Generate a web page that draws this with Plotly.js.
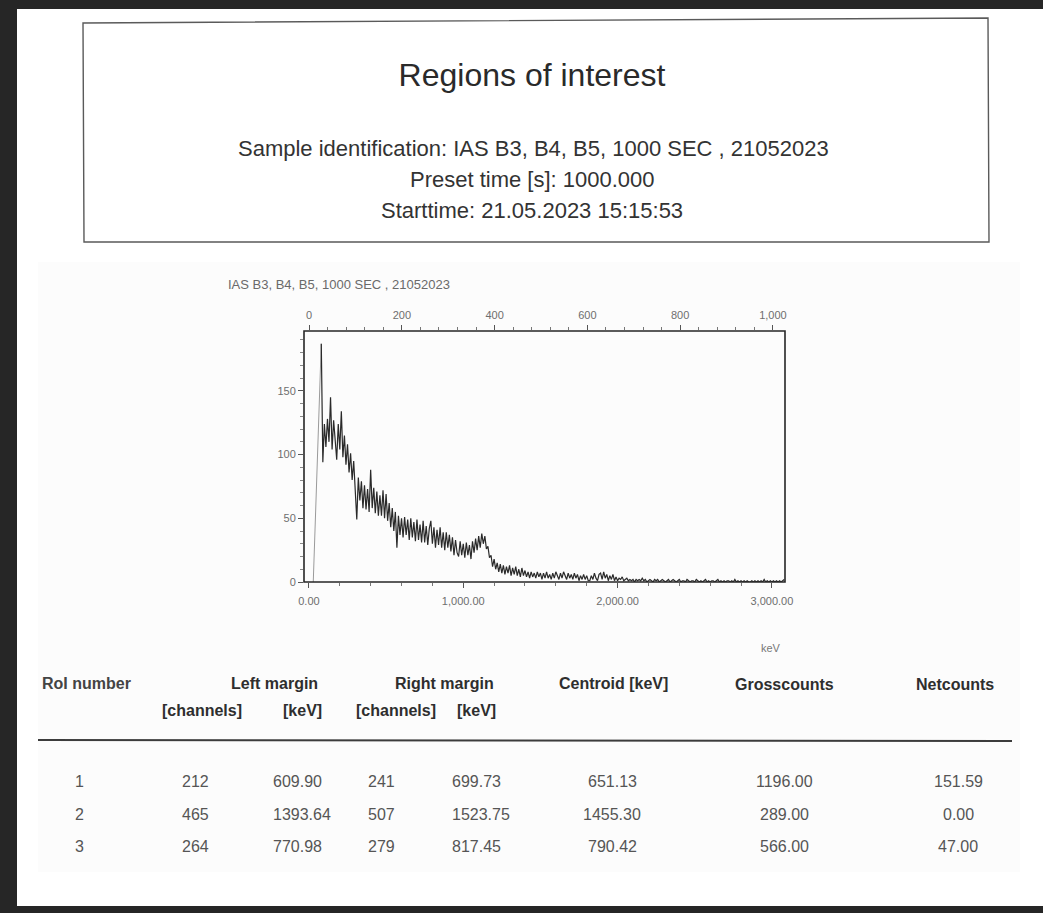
<!DOCTYPE html>
<html>
<head>
<meta charset="utf-8">
<script src="https://cdn.plot.ly/plotly-3.0.1.min.js"></script>
<style>
  html, body { margin: 0; padding: 0; background: #ffffff; }
  #report { width: 1043px; height: 913px; }
</style>
</head>
<body>
<div id="report"></div>
<script>
// ---- Report header ----
const reportTitle = "Regions of interest";
const sampleId = "IAS B3, B4, B5, 1000 SEC , 21052023";
const presetTime = "1000.000";
const startTime = "21.05.2023 15:15:53";

// ---- Spectrum (counts per 10 keV step, starting at 80 keV) ----
const spectrumStartKeV = 80;
const spectrumStepKeV = 10;
const riseKeV = [28, 80];
const riseCounts = [0, 187];
const counts = [
  187, 94, 124, 106, 128, 110, 145, 104, 127, 108,
  96, 124, 104, 134, 98, 115, 92, 108, 86, 101,
  80, 95, 74, 49, 82, 64, 79, 58, 76, 57,
  73, 55, 88, 58, 74, 54, 71, 52, 68, 52,
  72, 50, 69, 48, 62, 43, 58, 40, 55, 27,
  52, 37, 50, 35, 51, 37, 49, 33, 50, 35,
  47, 32, 49, 33, 45, 31, 48, 31, 44, 29,
  42, 48, 30, 43, 27, 41, 29, 43, 27, 39,
  25, 39, 27, 37, 24, 35, 21, 33, 23, 20,
  32, 21, 30, 19, 31, 21, 29, 18, 32, 23,
  34, 25, 36, 27, 38, 30, 36, 26, 28, 19,
  21, 12, 18, 10, 15, 8, 14, 7, 13, 6,
  12, 7, 13, 5, 11, 6, 12, 5, 10, 4,
  11, 5, 9, 4, 8, 3, 8, 4, 7, 3,
  8, 4, 7, 2, 7, 3, 8, 3, 6, 2,
  7, 3, 8, 4, 2, 7, 3, 8, 4, 2,
  7, 3, 6, 2, 7, 3, 6, 1, 5, 2,
  6, 2, 5, 1, 1, 5, 2, 7, 3, 1,
  6, 7, 2, 8, 3, 6, 1, 5, 2, 6,
  1, 4, 1, 3, 2, 4, 1, 2, 3, 1,
  2, 1, 2, 0, 2, 1, 2, 1, 3, 1,
  2, 0, 1, 2, 1, 0, 2, 1, 2, 0,
  1, 2, 1, 0, 1, 2, 0, 1, 2, 1,
  0, 1, 2, 0, 1, 1, 0, 2, 1, 0,
  1, 1, 0, 2, 1, 0, 1, 0, 1, 2,
  0, 1, 0, 1, 1, 0, 1, 2, 0, 1,
  0, 1, 0, 1, 1, 0, 1, 0, 2, 0,
  1, 0, 1, 0, 1, 0, 1, 0, 0, 1,
  0, 1, 0, 1, 0, 1, 0, 2, 0, 1,
  0, 1, 0, 1, 0, 1, 0, 1, 0, 1,
  2
];
const spectrumKeV = counts.map((_, i) => spectrumStartKeV + i * spectrumStepKeV);

// ---- Axis ticks ----
const energyTicks = [0, 1000, 2000, 3000];
const energyTickText = ["0.00", "1,000.00", "2,000.00", "3,000.00"];
const channelTicks = [0, 200, 400, 600, 800, 1000];
const channelTickText = ["0", "200", "400", "600", "800", "1,000"];
const countTicks = [0, 50, 100, 150];

// ---- Regions of interest table ----
const roiNumbers = [1, 2, 3];
const leftChannels = [212, 465, 264];
const leftKeV = [609.90, 1393.64, 770.98];
const rightChannels = [241, 507, 279];
const rightKeV = [699.73, 1523.75, 817.45];
const centroidKeV = [651.13, 1455.30, 790.42];
const grossCounts = [1196.00, 289.00, 566.00];
const netCounts = [151.59, 0.00, 47.00];

// ---- Page geometry helpers (pixel -> paper) ----
const W = 1043, H = 913;
const px = x => x / W;
const py = y => 1 - y / H;

const FONT = "Liberation Sans, Arial, sans-serif";
const ink = "#2b2b2b";

const annotations = [];
function label(text, x, y, opts) {
  const o = opts || {};
  annotations.push({
    text: text, x: px(x), y: py(y), xref: "paper", yref: "paper",
    xanchor: o.anchor || "center", yanchor: "middle", showarrow: false,
    font: { family: FONT, size: o.size || 16, color: o.color || ink }
  });
}

// Header block
label("Sample identification: " + sampleId, 533, 148, { size: 22, color: "#333" });
label("Preset time [s]: " + presetTime, 532, 180, { size: 22, color: "#333" });
label("Starttime: " + startTime, 532, 210, { size: 22, color: "#333" });

// Spectrum caption and unit
label(sampleId, 226, 284, { anchor: "left", size: 13, color: "#6a6a6a" });
label("keV", 771, 648, { size: 11, color: "#777" });

// Table header
const hdr = { size: 16, color: "#2e2e2e" };
label("<b>RoI number</b>", 40, 683, { anchor: "left", size: 16, color: "#444" });
label("<b>Left margin</b>", 274, 683, hdr);
label("<b>Right margin</b>", 444, 683, hdr);
label("<b>Centroid [keV]</b>", 613, 683, hdr);
label("<b>Grosscounts</b>", 784, 684, hdr);
label("<b>Netcounts</b>", 955, 684, hdr);
label("<b>[channels]</b>", 202, 710, hdr);
label("<b>[keV]</b>", 302, 710, hdr);
label("<b>[channels]</b>", 396, 710, hdr);
label("<b>[keV]</b>", 476, 710, hdr);

// Table rows
const rowY = [781, 814, 846];
const cell = { size: 16, color: "#555" };
roiNumbers.forEach((n, i) => {
  const y = rowY[i];
  label(String(n), 79, y, cell);
  label(String(leftChannels[i]), 195, y, cell);
  label(leftKeV[i].toFixed(2), 271, y, Object.assign({ anchor: "left" }, cell));
  label(String(rightChannels[i]), 381, y, cell);
  label(rightKeV[i].toFixed(2), 450, y, Object.assign({ anchor: "left" }, cell));
  label(centroidKeV[i].toFixed(2), 612, y, cell);
  label(grossCounts[i].toFixed(2), 784, y, cell);
  label(netCounts[i].toFixed(2), 958, y, cell);
});

const shapes = [
  // faint tone of the printed chart panel
  { type: "rect", xref: "paper", yref: "paper", x0: px(38), x1: px(1020), y0: py(872), y1: py(262),
    fillcolor: "#fcfcfc", line: { width: 0 }, layer: "below" },
  // header box
  { type: "path", xref: "paper", yref: "paper",
    path: `M ${px(83)} ${py(23)} L ${px(988)} ${py(18)} L ${px(989)} ${py(242)} L ${px(84)} ${py(242)} Z`,
    line: { color: "#5a5a5a", width: 1.4 }, fillcolor: "#ffffff", layer: "below" },
  // table rule
  { type: "line", xref: "paper", yref: "paper", x0: px(38), x1: px(1012), y0: py(740), y1: py(741),
    line: { color: "#3c3c3c", width: 2 } },
  // spectrum frame
  { type: "rect", xref: "paper", yref: "paper", x0: px(304), x1: px(785), y0: py(582), y1: py(331),
    line: { color: "#262626", width: 1.6 } },
  // dark page edges
  { type: "rect", xref: "paper", yref: "paper", x0: 0, x1: 1, y0: py(9), y1: 1,
    fillcolor: "#262626", line: { width: 0 } },
  { type: "rect", xref: "paper", yref: "paper", x0: 0, x1: px(17), y0: 0, y1: 1,
    fillcolor: "#262626", line: { width: 0 } },
  { type: "rect", xref: "paper", yref: "paper", x0: 0, x1: 1, y0: 0, y1: py(906),
    fillcolor: "#262626", line: { width: 0 } }
];

const tickFont = { family: FONT, size: 11, color: "#6e6e6e" };

const traces = [
  { x: riseKeV, y: riseCounts, type: "scatter", mode: "lines",
    line: { color: "#9a9a9a", width: 1 }, hoverinfo: "skip" },
  { x: spectrumKeV, y: counts, type: "scatter", mode: "lines",
    line: { color: "#2a2a2a", width: 1.2 }, hoverinfo: "skip" },
  { x: [0, 1000], y: [0, 0], xaxis: "x2", type: "scatter", mode: "lines",
    line: { width: 0 }, opacity: 0, hoverinfo: "skip" }
];

const layout = {
  width: W, height: H,
  margin: { l: 0, r: 0, t: 0, b: 0 },
  paper_bgcolor: "#ffffff", plot_bgcolor: "#ffffff",
  showlegend: false,
  title: {
    text: reportTitle, x: px(532), y: py(75), xanchor: "center", yanchor: "middle",
    xref: "paper", yref: "paper",
    font: { family: FONT, size: 32, color: "#2a2a2a" }
  },
  xaxis: {
    domain: [px(304), px(785)], range: [-32, 3085],
    tickmode: "array", tickvals: energyTicks, ticktext: energyTickText,
    ticks: "outside", ticklen: 5, tickwidth: 1, tickcolor: "#555",
    minor: { ticks: "outside", dtick: 200, tick0: 0, ticklen: 3, tickcolor: "#777" },
    showgrid: false, zeroline: false, showline: false, ticklabelstandoff: 4,
    tickfont: tickFont, anchor: "y", fixedrange: true
  },
  xaxis2: {
    overlaying: "x", side: "top", anchor: "y", range: [-11, 1026],
    tickmode: "array", tickvals: channelTicks, ticktext: channelTickText,
    ticks: "outside", ticklen: 5, tickwidth: 1, tickcolor: "#555",
    minor: { ticks: "outside", dtick: 40, tick0: 0, ticklen: 3, tickcolor: "#777" },
    showgrid: false, zeroline: false, showline: false, ticklabelstandoff: 2,
    tickfont: tickFont, fixedrange: true
  },
  yaxis: {
    domain: [py(582), py(331)], range: [0, 197],
    tickmode: "array", tickvals: countTicks,
    ticks: "outside", ticklen: 5, tickwidth: 1, tickcolor: "#555",
    minor: { ticks: "outside", dtick: 10, tick0: 0, ticklen: 3, tickcolor: "#888" },
    showgrid: false, zeroline: false, showline: false,
    tickfont: tickFont, anchor: "x", fixedrange: true
  },
  shapes: shapes,
  annotations: annotations
};

Plotly.newPlot("report", traces, layout, { staticPlot: true, displayModeBar: false });
</script>
</body>
</html>
